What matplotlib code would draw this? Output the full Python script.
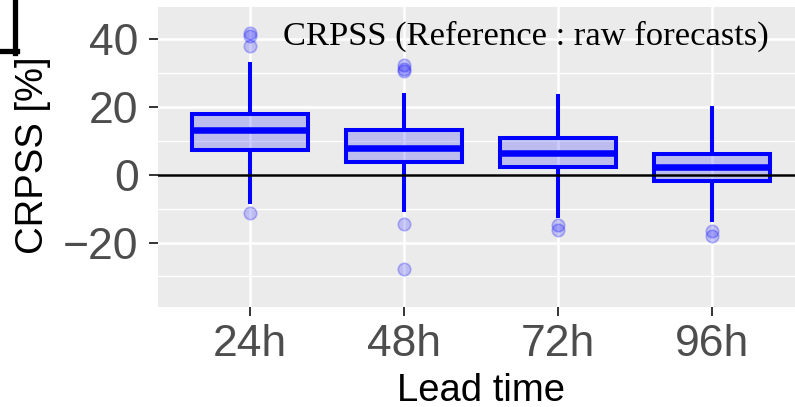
import numpy as np
import matplotlib as mpl
mpl.use('Agg')
import matplotlib.pyplot as plt
from matplotlib.lines import Line2D

# -----------------------------------------------------------
W, H, dpi = 795, 407, 100

mpl.rc('font', family=['Liberation Sans', 'DejaVu Sans'])
mpl.rc('axes', facecolor='#EBEBEB', edgecolor='none', axisbelow=True)
mpl.rc('xtick', labelsize=32, color='#333333', labelcolor='#4D4D4D')
mpl.rc('ytick', labelsize=32, color='#333333', labelcolor='#4D4D4D')
mpl.rc('xtick.major', size=6.8, width=1.4, pad=5)
mpl.rc('ytick.major', size=6.8, width=1.4, pad=7)
# -----------------------------------------------------------

lead = ['24h', '48h', '72h', '96h']
whis_lo = [-8.0, -10.5, -12.3, -13.4]
q1 = [7.4, 3.8, 2.2, -1.7]
med = [13.2, 7.8, 6.4, 2.4]
q3 = [18.0, 13.1, 10.9, 6.2]
whis_hi = [32.6, 23.5, 23.2, 19.8]
outliers = [[41.7, 40.9, 37.9, -11.3],
            [32.4, 31.1, 30.6, -14.4, -27.7],
            [-14.9, -16.4],
            [-16.5, -18.1]]

stats = []
for i in range(len(lead)):
    stats.append(dict(label=lead[i], whislo=whis_lo[i], q1=q1[i], med=med[i],
                      q3=q3[i], whishi=whis_hi[i], fliers=outliers[i]))

fig = plt.figure(figsize=(W/dpi, H/dpi), dpi=dpi)
ax = fig.add_axes([157.7/W, 1-307.3/H, (795-157.7)/W, (307.3-7.3)/H])

blue = (0, 0, 1)
ax.bxp(stats, positions=np.arange(1, len(lead)+1), widths=0.75,
       patch_artist=True, showcaps=False,
       boxprops=dict(facecolor=(0, 0, 1, 0.2), edgecolor=blue, linewidth=2.9),
       whiskerprops=dict(color=blue, linewidth=2.9),
       medianprops=dict(color=blue, linewidth=4.7),
       flierprops=dict(marker='o', markersize=9, markerfacecolor=(0, 0, 1, 0.2),
                       markeredgecolor=(0, 0, 1, 0.25), markeredgewidth=1.2))

ax.axhline(0, color='black', lw=1.8, zorder=5)

ax.set_xlim(0.4, 4.54)
ax.set_ylim(-39.1, 49.4)
ax.set_yticks([-20, 0, 20, 40])
ax.set_yticklabels(['\u221220', '0', '20', '40'])
ax.set_yticks([-30, -10, 10, 30], minor=True)
ax.tick_params(axis='y', which='minor', length=0)
ax.grid(True, which='major', color='white', lw=1.8)
ax.grid(True, which='minor', axis='y', color='white', lw=0.9)

ax.text(2.79, 38.4, 'CRPSS (Reference : raw forecasts)', ha='center', va='baseline',
        fontsize=24.8, family=['Liberation Serif', 'DejaVu Serif'], color='black', zorder=6)

fig.text(481/W, 1-401/H, 'Lead time', ha='center', va='baseline', fontsize=27.5, color='black')
fig.text(33/W, 1-155/H, 'CRPSS [%]', ha='center', va='center', rotation=90,
         fontsize=27.5, color='black')

# corner of a neighbouring panel, cropped
fig.add_artist(Line2D([15/W, 15/W], [1.0, 1-53/H], color='black', lw=3.8))
fig.add_artist(Line2D([0, 17/W], [1-51/H, 1-51/H], color='black', lw=3.8))

plt.savefig('out.png', dpi=dpi)
